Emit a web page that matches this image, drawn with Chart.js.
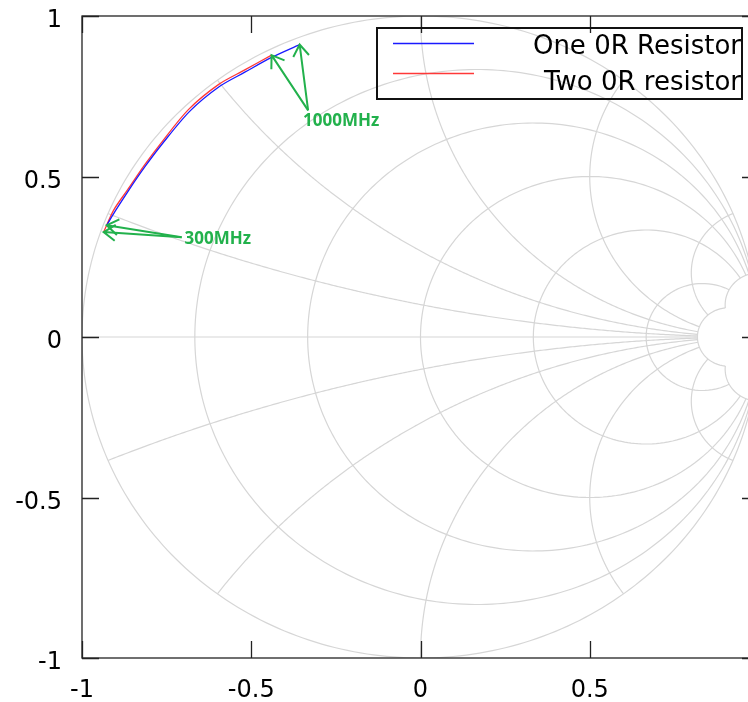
<!DOCTYPE html>
<html>
<head>
<meta charset="utf-8">
<script src="https://cdn.jsdelivr.net/npm/chart.js@4"></script>
<style>
  html, body { margin: 0; padding: 0; overflow: hidden; background: #fff; }
  canvas { display: block; }
</style>
</head>
<body>
<!-- the plot runs to x = 1, a bit past the right edge of the window, like the original -->
<canvas id="smith" width="780" height="702"></canvas>
<script>
// reflection coefficient, 300MHz -> 1000MHz (real / imaginary)
var oneRe = [-0.927, -0.902, -0.864, -0.813, -0.765, -0.682, -0.593, -0.519, -0.440, -0.357];
var oneIm = [ 0.348,  0.392,  0.454,  0.532,  0.599,  0.703,  0.781,  0.825,  0.871,  0.911];
var twoRe = [-0.936, -0.906, -0.865, -0.815, -0.766, -0.685, -0.596, -0.519, -0.440];
var twoIm = [ 0.327,  0.396,  0.459,  0.536,  0.605,  0.709,  0.787,  0.832,  0.878];
var seriesNames = ['One 0R Resistor', 'Two 0R resistor'];

// axis ticks
var tickValues = [-1, -0.5, 0, 0.5, 1];
var tickLabels = ['-1', '-0.5', '0', '0.5', '1'];

// smith grid: constant resistance circles and constant reactance arcs
var gridR = [0, 0.2, 0.5, 1, 2, 5, 10];
var gridX = [0, 0.2, -0.2, 0.5, -0.5, 1, -1, 2, -2, 5, -5, 10, -10];
var gridLimit = 10;

// frequency notes: text, where the text sits (data coords), where the arrows start
var noteText = ['300MHz', '1000MHz'];
var noteTextX = [-0.697, -0.347];
var noteTextY = [0.290, 0.656];
var noteTailX = [-0.7055, -0.332];
var noteTailY = [0.311, 0.706];

function toPoints(re, im) {
  return re.map(function (v, i) { return { x: v, y: im[i] }; });
}

// z = r + jx  ->  gamma = (z - 1) / (z + 1)
function gamma(r, x) {
  var a = r - 1, c = r + 1;
  var den = c * c + x * x;
  return [(a * c + x * x) / den, (x * c - a * x) / den];
}

var smithGrid = {
  id: 'smithGrid',
  beforeDatasetsDraw: function (chart) {
    var ctx = chart.ctx, xs = chart.scales.x, ys = chart.scales.y, ca = chart.chartArea;
    var tMax = Math.atan(gridLimit), n = 300;
    ctx.save();
    ctx.beginPath();
    ctx.rect(ca.left, ca.top, ca.right - ca.left, ca.bottom - ca.top);
    ctx.clip();
    ctx.strokeStyle = '#d6d6d6';
    ctx.lineWidth = 1.2;
    gridR.forEach(function (r) {
      ctx.beginPath();
      for (var i = 0; i <= n; i++) {
        var g = gamma(r, Math.tan(-tMax + 2 * tMax * i / n));
        var px = xs.getPixelForValue(g[0]), py = ys.getPixelForValue(g[1]);
        if (i === 0) ctx.moveTo(px, py); else ctx.lineTo(px, py);
      }
      ctx.stroke();
    });
    gridX.forEach(function (x) {
      ctx.beginPath();
      for (var i = 0; i <= n; i++) {
        var g = gamma(Math.tan(tMax * i / n), x);
        var px = xs.getPixelForValue(g[0]), py = ys.getPixelForValue(g[1]);
        if (i === 0) ctx.moveTo(px, py); else ctx.lineTo(px, py);
      }
      ctx.stroke();
    });
    ctx.restore();
  }
};

function arrow(ctx, x0, y0, x1, y1) {
  var ang = Math.atan2(y1 - y0, x1 - x0), len = 14, spread = 0.6;
  ctx.beginPath();
  ctx.moveTo(x0, y0);
  ctx.lineTo(x1, y1);
  ctx.moveTo(x1 - len * Math.cos(ang - spread), y1 - len * Math.sin(ang - spread));
  ctx.lineTo(x1, y1);
  ctx.lineTo(x1 - len * Math.cos(ang + spread), y1 - len * Math.sin(ang + spread));
  ctx.stroke();
}

var frameAndNotes = {
  id: 'frameAndNotes',
  afterDatasetsDraw: function (chart) {
    var ctx = chart.ctx, xs = chart.scales.x, ys = chart.scales.y, ca = chart.chartArea;
    ctx.save();

    // frame with inward ticks on all four sides
    ctx.strokeStyle = '#222';
    ctx.lineWidth = 1.3;
    ctx.strokeRect(ca.left, ca.top, ca.right - ca.left, ca.bottom - ca.top);
    ctx.beginPath();
    tickValues.forEach(function (v) {
      var px = Math.round(xs.getPixelForValue(v)) + 0.5;
      ctx.moveTo(px, ca.bottom); ctx.lineTo(px, ca.bottom - 17);
      ctx.moveTo(px, ca.top); ctx.lineTo(px, ca.top + 17);
      var py = Math.round(ys.getPixelForValue(v)) + 0.5;
      ctx.moveTo(ca.left, py); ctx.lineTo(ca.left + 17, py);
      ctx.moveTo(ca.right, py); ctx.lineTo(ca.right - 17, py);
    });
    ctx.stroke();

    // green frequency notes, arrows to the first / last point of each trace
    var ends = [
      [[oneRe[0], oneIm[0]], [twoRe[0], twoIm[0]]],
      [[oneRe[oneRe.length - 1], oneIm[oneIm.length - 1]], [twoRe[twoRe.length - 1], twoIm[twoIm.length - 1]]]
    ];
    ctx.strokeStyle = '#22b14c';
    ctx.fillStyle = '#22b14c';
    ctx.lineWidth = 2;
    ctx.font = 'bold 17px "Open Sans", sans-serif';
    ctx.textAlign = 'left';
    ctx.textBaseline = 'alphabetic';
    noteText.forEach(function (t, k) {
      var tx = xs.getPixelForValue(noteTailX[k]), ty = ys.getPixelForValue(noteTailY[k]);
      ends[k].forEach(function (p) {
        arrow(ctx, tx, ty, xs.getPixelForValue(p[0]), ys.getPixelForValue(p[1]));
      });
      ctx.fillText(t, xs.getPixelForValue(noteTextX[k]), ys.getPixelForValue(noteTextY[k]));
    });

    // key box, top right
    var colors = chart.data.datasets.map(function (d) { return d.borderColor; });
    ctx.strokeStyle = '#111';
    ctx.lineWidth = 2;
    ctx.strokeRect(377, 28, 365, 71);
    ctx.font = '26px "DejaVu Sans", sans-serif';
    ctx.textAlign = 'right';
    ctx.fillStyle = '#000';
    seriesNames.forEach(function (name, i) {
      var y = 43 + i * 30;
      ctx.strokeStyle = colors[i];
      ctx.lineWidth = 1.3;
      ctx.beginPath();
      ctx.moveTo(393, y + 0.5); ctx.lineTo(474, y + 0.5);
      ctx.stroke();
      ctx.fillText(name, 741, y + 11 + i * 5.5);
    });
    ctx.restore();
  }
};

var tickFont = { family: '"DejaVu Sans", sans-serif', size: 24 };

function noPad(s) {
  s.paddingTop = 0; s.paddingBottom = 0; s.paddingLeft = 0; s.paddingRight = 0;
}

new Chart(document.getElementById('smith'), {
  type: 'scatter',
  data: {
    datasets: [{
      label: seriesNames[0],
      data: toPoints(oneRe, oneIm),
      borderColor: '#1a1aff',
      borderWidth: 1.3,
      showLine: true,
      pointRadius: 0,
      tension: 0.3
    }, {
      label: seriesNames[1],
      data: toPoints(twoRe, twoIm),
      borderColor: '#ff3838',
      borderWidth: 1.3,
      showLine: true,
      pointRadius: 0,
      tension: 0.3
    }]
  },
  options: {
    responsive: false,
    animation: false,
    events: [],
    layout: { padding: { top: 16, right: 21, left: 0, bottom: 0 } },
    plugins: { legend: { display: false }, tooltip: { enabled: false } },
    scales: {
      x: {
        type: 'linear', min: -1, max: 1,
        grid: { display: false, drawTicks: false }, border: { display: false },
        afterBuildTicks: function (s) { s.ticks = tickValues.map(function (v) { return { value: v }; }); },
        afterFit: function (s) { s.height = 44; noPad(s); },
        ticks: {
          color: '#000', font: tickFont, padding: 18, maxRotation: 0,
          callback: function (v) { return tickLabels[tickValues.indexOf(v)]; }
        }
      },
      y: {
        type: 'linear', min: -1, max: 1,
        grid: { display: false, drawTicks: false }, border: { display: false },
        afterBuildTicks: function (s) { s.ticks = tickValues.map(function (v) { return { value: v }; }); },
        afterFit: function (s) { s.width = 82; noPad(s); },
        ticks: {
          color: '#000', font: tickFont, padding: 20, labelOffset: 5,
          callback: function (v) { return tickLabels[tickValues.indexOf(v)]; }
        }
      }
    }
  },
  plugins: [smithGrid, frameAndNotes]
});
</script>
</body>
</html>
